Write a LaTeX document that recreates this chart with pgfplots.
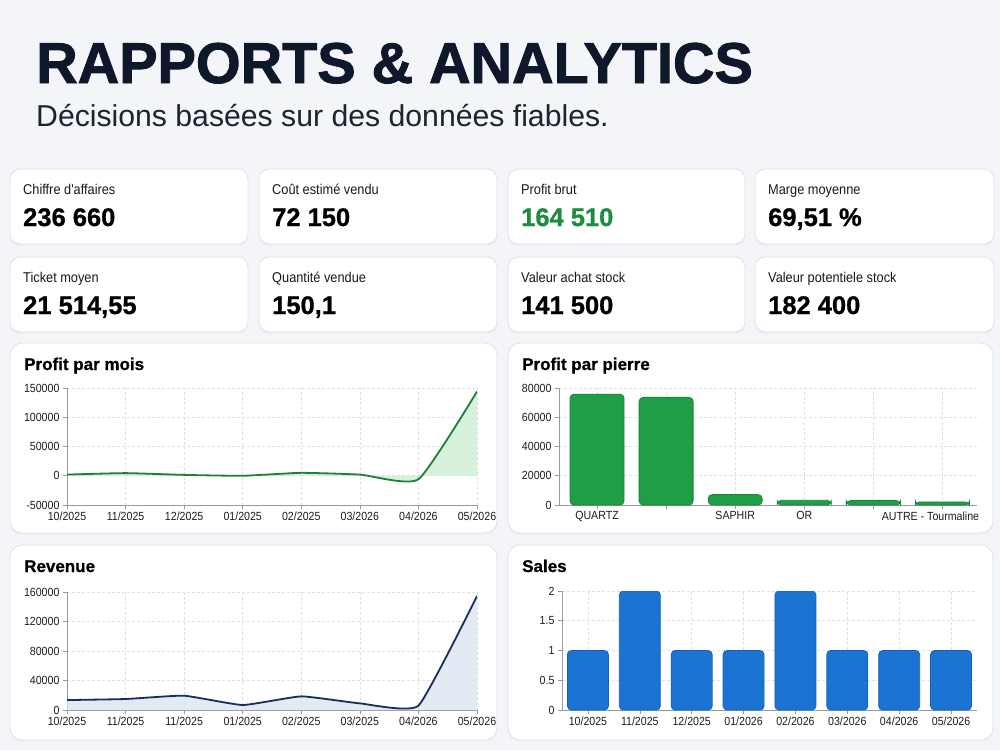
\documentclass[border=0pt]{standalone}
\usepackage{fontspec}
\setmainfont{Liberation Sans}
\newfontfamily\titlefont[FakeBold=1.6]{Liberation Sans Bold}
\newfontfamily\valfont[FakeBold=0.8]{Liberation Sans Bold}
\newfontfamily\narrowfont[FakeStretch=0.9]{Liberation Sans}
\usepackage{pgfplots}
\pgfplotsset{compat=1.18}
\usetikzlibrary{shadows}
\definecolor{bg}{RGB}{243,245,249}
\definecolor{cardborder}{RGB}{221,226,232}
\definecolor{titlec}{RGB}{15,23,42}
\definecolor{subc}{RGB}{30,35,45}
\definecolor{gline}{RGB}{28,128,56}
\definecolor{gfill}{RGB}{205,238,212}
\definecolor{gbar}{RGB}{32,158,70}
\definecolor{gbard}{RGB}{24,135,58}
\definecolor{nline}{RGB}{22,48,94}
\definecolor{nfill}{RGB}{222,229,240}
\definecolor{bbar}{RGB}{28,116,210}
\definecolor{bbard}{RGB}{20,98,185}
\definecolor{axc}{RGB}{150,155,162}
\definecolor{gridc}{RGB}{222,225,230}
\definecolor{tickc}{RGB}{30,30,30}
\definecolor{kpigreen}{RGB}{30,140,62}

\pgfplotsset{dash/.style={
  scale only axis, axis lines=left,
  axis line style={-,draw=axc,line width=0.8pt},
  tick style={draw=axc,line width=0.6pt}, major tick length=4pt, tick align=outside,
  grid=major, grid style={draw=gridc,dash pattern=on 3pt off 2pt,line width=0.6pt},
  ticklabel style={font=\narrowfont\fontsize{11.8}{13}\selectfont,text=tickc},
  xticklabel style={inner sep=1pt,yshift=-1.5pt},
  scaled ticks=false, anchor=south west,
}}

\newcommand{\card}[5]{%
  \draw[rounded corners=10pt,fill=white,draw=cardborder,line width=0.8pt,
        drop shadow={opacity=0.05,shadow xshift=0pt,shadow yshift=-2pt}]
        (#1,#2) rectangle (#3,#2+75);
  \node[anchor=base west,inner sep=0,font=\narrowfont\fontsize{14.2}{16}\selectfont,text=black!90]
        at (#1+13,#2+25) {#4};
  \node[anchor=base west,inner sep=0,font=\valfont\fontsize{25.5}{28}\selectfont]
        at (#1+13,#2+57) {#5};}

\newcommand{\panel}[5]{%
  \draw[rounded corners=12pt,fill=white,draw=cardborder,line width=0.8pt,
        drop shadow={opacity=0.05,shadow xshift=0pt,shadow yshift=-2pt}]
        (#1,#2) rectangle (#3,#4);
  \node[anchor=base west,inner sep=0,font=\valfont\fontsize{17}{19}\selectfont]
        at (#1+14,#2+27) {#5};}

\begin{document}
\begin{tikzpicture}[x=1pt,y=-1pt]
\fill[bg] (0,0) rectangle (1000,750);

\node[anchor=base west,inner sep=0,font=\titlefont\fontsize{57.5}{60}\selectfont,text=titlec]
  at (36,83) {RAPPORTS \& ANALYTICS};
\node[anchor=base west,inner sep=0,font=\fontsize{30.2}{33}\selectfont,text=subc]
  at (36,126) {Décisions basées sur des données fiables.};

\card{10}{169}{248}{Chiffre d'affaires}{236 660}
\card{259}{169}{497}{Coût estimé vendu}{72 150}
\card{508}{169}{745}{Profit brut}{\textcolor{kpigreen}{164 510}}
\card{755}{169}{994}{Marge moyenne}{69,51 \%}
\card{10}{257}{248}{Ticket moyen}{21 514,55}
\card{259}{257}{497}{Quantité vendue}{150,1}
\card{508}{257}{745}{Valeur achat stock}{141 500}
\card{755}{257}{994}{Valeur potentiele stock}{182 400}

\panel{10}{343}{497}{533}{Profit par mois}
\panel{508}{343}{993}{533}{Profit par pierre}
\panel{10}{545}{497}{740}{Revenue}
\panel{508}{545}{993}{740}{Sales}

% Profit par mois
\begin{axis}[dash, at={(67pt,-505pt)}, width=410pt, height=117pt,
  xmin=0, xmax=7, ymin=-50000, ymax=150000,
  xtick={0,...,7},
  xticklabels={10/2025,11/2025,12/2025,01/2025,02/2025,03/2026,04/2026,05/2026},
  ytick={-50000,0,50000,100000,150000},
  yticklabels={-50000,0,50000,100000,150000}]
\addplot[fill=gfill,draw=none,fill opacity=0.8,smooth,tension=0.3] coordinates {
 (0,2000)(1,4500)(2,1500)(3,0)(4,5000)(5,2000)(6,-6000)(7,144000)} \closedcycle;
\addplot[gline,line width=1.8pt,smooth,tension=0.3] coordinates {
 (0,2000)(1,4500)(2,1500)(3,0)(4,5000)(5,2000)(6,-6000)(7,144000)};
\end{axis}

% Profit par pierre
\begin{axis}[dash, at={(559pt,-505pt)}, width=418pt, height=117pt,
  xmin=-0.55, xmax=5.5, ymin=0, ymax=80000,
  xtick={0,...,5},
  xticklabels={QUARTZ,,SAPHIR,OR,,{\hspace*{-24pt}AUTRE - Tourmaline}},
  ytick={0,20000,40000,60000,80000},
  yticklabels={0,20000,40000,60000,80000},
  ybar, bar width=54pt]
\addplot[fill=gbar,draw=gbard,line width=0.8pt,rounded corners=4pt] coordinates {
 (0,75800)(1,73600)(2,7100)(3,3200)(4,3000)(5,2100)};
\end{axis}

% Revenue
\begin{axis}[dash, at={(67pt,-710pt)}, width=410pt, height=118pt,
  xmin=0, xmax=7, ymin=0, ymax=160000,
  xtick={0,...,7},
  xticklabels={10/2025,11/2025,11/2025,01/2025,02/2025,03/2025,04/2026,05/2026},
  ytick={0,40000,80000,120000,160000},
  yticklabels={0,40000,80000,120000,160000}]
\addplot[fill=nfill,draw=none,fill opacity=0.8,smooth,tension=0.25] coordinates {
 (0,13500)(1,14900)(2,19400)(3,6800)(4,18500)(5,9000)(6,5900)(7,154600)} \closedcycle;
\addplot[nline,line width=1.8pt,smooth,tension=0.25] coordinates {
 (0,13500)(1,14900)(2,19400)(3,6800)(4,18500)(5,9000)(6,5900)(7,154600)};
\end{axis}

% Sales
\begin{axis}[dash, at={(562pt,-710pt)}, width=415pt, height=119pt,
  xmin=-0.5, xmax=7.5, ymin=0, ymax=2,
  xtick={0,...,7},
  xticklabels={10/2025,11/2025,12/2025,01/2026,02/2026,03/2026,04/2026,05/2026},
  ytick={0,0.5,1,1.5,2},
  yticklabels={0,0.5,1,1.5,2},
  ybar, bar width=41pt]
\addplot[fill=bbar,draw=bbard,line width=0.8pt,rounded corners=4pt] coordinates {
 (0,1)(1,2)(2,1)(3,1)(4,2)(5,1)(6,1)(7,1)};
\end{axis}
\end{tikzpicture}
\end{document}
